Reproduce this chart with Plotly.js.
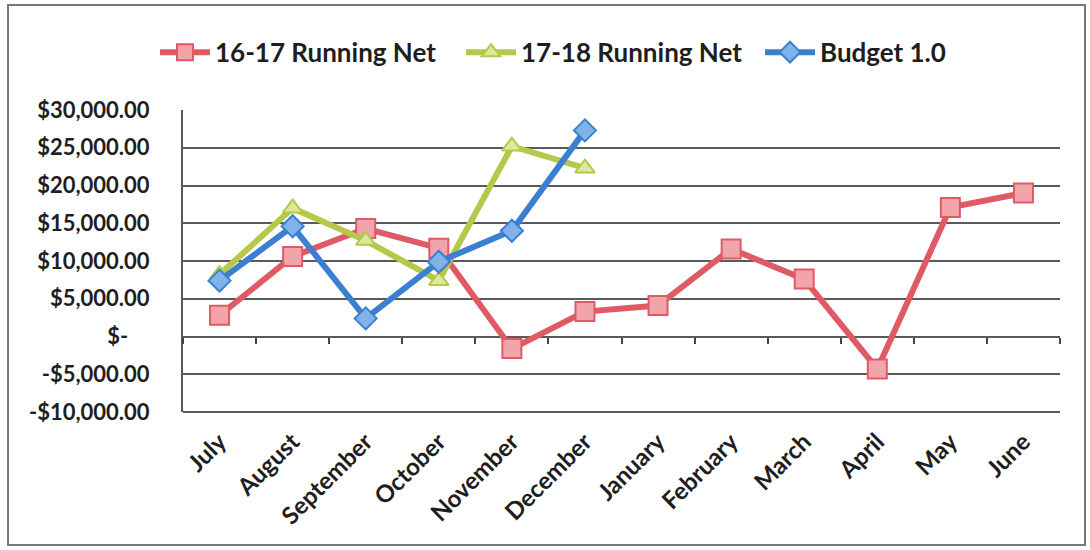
<!DOCTYPE html>
<html>
<head>
<meta charset="utf-8">
<script src="https://cdn.plot.ly/plotly-3.0.1.min.js"></script>
<style>
html,body{margin:0;padding:0;background:#fff;}
#chart{width:1090px;height:550px;}
</style>
</head>
<body>
<div id="chart"></div>
<script>
var months = ["July","August","September","October","November","December","January","February","March","April","May","June"];
var net1617 = [2800, 10600, 14300, 11700, -1600, 3300, 4100, 11600, 7600, -4300, 17100, 19000];
var net1718 = [8200, 17000, 12700, 7400, 25200, 22300, null, null, null, null, null, null];
var budget10 = [7400, 14600, 2400, 9900, 14000, 27300, null, null, null, null, null, null];
var seriesNames = ["16-17 Running Net", "17-18 Running Net", "Budget 1.0"];
var yTickVals = [30000, 25000, 20000, 15000, 10000, 5000, 0, -5000, -10000];
var yTickText = ["$30,000.00", "$25,000.00", "$20,000.00", "$15,000.00", "$10,000.00", "$5,000.00", "$-\u00a0\u00a0\u00a0\u00a0", "-$5,000.00", "-$10,000.00"];
var yRange = [-10000, 30000];

var FONT = "Lato, 'Open Sans', 'DejaVu Sans', sans-serif";

var traces = [
  {x: months, y: net1617, name: seriesNames[0], type: "scatter", mode: "lines+markers", legend: "legend",
   line: {color: "#e05a66", width: 6},
   marker: {symbol: "square", size: 19, color: "#f2a4ab", line: {color: "#e05a66", width: 2}}},
  {x: months, y: net1718, name: seriesNames[1], type: "scatter", mode: "lines+markers", legend: "legend2",
   line: {color: "#b4c84a", width: 6},
   marker: {symbol: "triangle-up", size: 17, color: "#dce89c", line: {color: "#b4c84a", width: 2}}},
  {x: months, y: budget10, name: seriesNames[2], type: "scatter", mode: "lines+markers", legend: "legend3",
   line: {color: "#3a7fd0", width: 6},
   marker: {symbol: "diamond", size: 17, color: "#7fb3ea", line: {color: "#3a7fd0", width: 2}}},
  {x: months, y: months.map(function(){return null;}), xaxis: "x2", yaxis: "y",
   type: "scatter", mode: "lines", showlegend: false, hoverinfo: "skip"}
];

var zeroPos = (0 - yRange[0]) / (yRange[1] - yRange[0]);

function legendAt(xc) {
  return {orientation: "h", xref: "container", x: xc, xanchor: "left",
          yref: "container", y: 0.905, yanchor: "middle",
          font: {family: FONT, size: 26, color: "#1e1e1e", weight: "bold"},
          itemwidth: 50, bgcolor: "rgba(0,0,0,0)"};
}

var layout = {
  width: 1090, height: 550,
  margin: {l: 183, r: 30, t: 110, b: 138},
  paper_bgcolor: "#ffffff", plot_bgcolor: "#ffffff",
  showlegend: true,
  legend: legendAt(155 / 1090),
  legend2: legendAt(461 / 1090),
  legend3: legendAt(760 / 1090),
  xaxis: {type: "category", categoryorder: "array", categoryarray: months,
          range: [-0.5, 11.5], showgrid: false, zeroline: false,
          showline: false, ticks: "", tickangle: -45, ticklabelstandoff: 10,
          tickfont: {family: FONT, size: 24, color: "#1e1e1e", weight: "bold"}},
  xaxis2: {type: "category", categoryorder: "array", categoryarray: months, matches: "x",
           overlaying: "x", anchor: "free", position: zeroPos, showgrid: false,
           zeroline: false, showline: false, showticklabels: false,
           ticks: "outside", tickson: "boundaries", ticklen: 6, tickwidth: 2, tickcolor: "#444"},
  yaxis: {range: yRange, tickvals: yTickVals, ticktext: yTickText,
          showgrid: true, gridcolor: "#5a5a5a", gridwidth: 2,
          zeroline: true, zerolinecolor: "#5a5a5a", zerolinewidth: 2,
          showline: true, linecolor: "#5a5a5a", linewidth: 2,
          ticks: "", ticklabelstandoff: 27,
          tickfont: {family: FONT, size: 22, color: "#1e1e1e", weight: "bold"}},
  shapes: [
    {type: "line", xref: "paper", yref: "paper", x0: 0, x1: 1, y0: 0, y1: 0,
     line: {color: "#5a5a5a", width: 2}},
    {type: "rect", xref: "paper", yref: "paper", x0: -0.1995, x1: 1.0285, y0: -0.44, y1: 1.348,
     line: {color: "#777", width: 2}, layer: "below"}
  ]
};

Plotly.newPlot("chart", traces, layout, {displayModeBar: false, staticPlot: true});
</script>
</body>
</html>
